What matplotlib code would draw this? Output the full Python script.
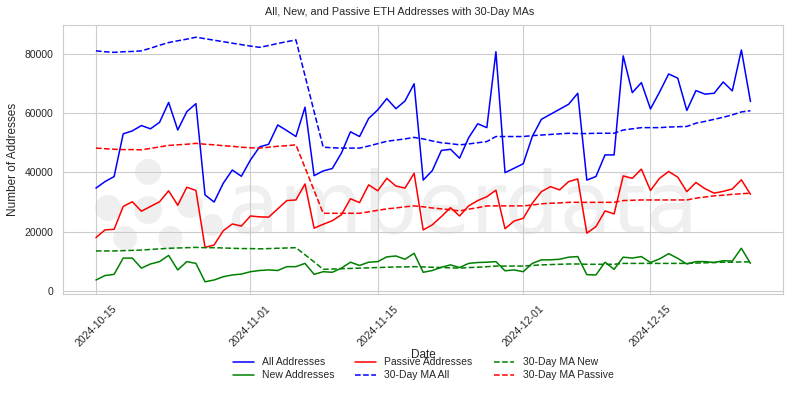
import pandas as pd
import matplotlib.pyplot as plt
import seaborn as sns

# daily values, starting 2024-10-15
start_date = "2024-10-15"
all_addresses = [34700, 36900, 38600, 53000, 54000, 55800, 54700, 56900, 63600, 54300,
                 60500, 63200, 32400, 30000, 36300, 40800, 38700, 44200, 48600, 49500,
                 56000, 54100, 52100, 62000, 38900, 40500, 41300, 46500, 53700, 52100,
                 58200, 61100, 64900, 61500, 64100, 69900, 37400, 40600, 47400, 47800,
                 44800, 51700, 56400, 55100, 80700, 39900, 41400, 42900, 52100, 57900,
                 59600, 61300, 63000, 66700, 37400, 38600, 45900, 45900, 79300, 66900,
                 70300, 61400, 67100, 73200, 71800, 60900, 67600, 66400, 66700, 70500,
                 67500, 81300, 63900]
new_addresses = [3700, 5200, 5600, 11100, 11100, 7700, 9100, 9900, 12000, 7100,
                 9900, 9300, 3100, 3700, 4800, 5400, 5700, 6500, 6900, 7100,
                 6900, 8200, 8200, 9300, 5600, 6500, 6300, 7700, 9700, 8600,
                 9700, 9900, 11500, 11800, 10700, 12700, 6300, 6900, 8000, 8800,
                 7900, 9300, 9600, 9700, 9900, 6800, 7100, 6500, 9300, 10500,
                 10500, 10700, 11400, 11600, 5500, 5400, 9700, 7300, 11400, 11100,
                 11600, 9600, 10800, 12600, 11000, 9100, 9900, 9900, 9600, 10200,
                 10100, 14400, 9300]
passive_addresses = [18000, 20600, 20800, 28500, 30100, 26900, 28500, 30100, 33800, 28900,
                     35000, 33900, 14700, 15500, 20300, 22600, 21900, 25300, 25000, 24900,
                     27700, 30500, 30700, 36100, 21200, 22500, 23700, 25700, 31100, 29800,
                     35800, 33800, 38000, 35400, 34700, 39700, 20600, 22300, 25100, 28100,
                     25300, 28700, 30500, 31800, 34000, 21000, 23600, 24500, 29600, 33500,
                     35200, 34100, 36900, 37800, 19500, 21700, 27000, 26000, 38800, 38000,
                     41100, 33900, 38000, 40300, 38400, 33500, 36600, 34500, 33000, 33600,
                     34400, 37500, 32600]
ma_all = [81000, 80700, 80500, 80700, 80800, 81000, 81900, 82900, 83800, 84400,
          84950, 85600, 85100, 84600, 84100, 83600, 83100, 82600, 82200, 82800,
          83500, 84100, 84700, 72600, 60500, 48500, 48300, 48200, 48200, 48200,
          48900, 49700, 50500, 50900, 51300, 51800, 51300, 50600, 50000, 49700,
          49300, 49600, 50000, 50400, 52100, 52100, 52100, 52100, 52400, 52600,
          52800, 53000, 53200, 53100, 53100, 53200, 53200, 53200, 54300, 54700,
          55100, 55100, 55100, 55300, 55400, 55500, 56600, 57200, 57900, 58600,
          59400, 60400, 60800]
ma_new = [13500, 13500, 13500, 13600, 13700, 13800, 14000, 14200, 14400, 14500,
          14600, 14700, 14600, 14600, 14500, 14400, 14300, 14300, 14200, 14300,
          14400, 14500, 14600, 12200, 9800, 7300, 7400, 7500, 7600, 7700,
          7800, 7900, 8000, 8100, 8100, 8200, 8100, 8000, 7900, 7800,
          7700, 7900, 8000, 8200, 8400, 8400, 8400, 8400, 8600, 8800,
          8900, 9000, 9100, 9100, 9000, 9000, 9000, 9000, 9300, 9300,
          9300, 9300, 9300, 9300, 9300, 9300, 9400, 9500, 9600, 9700,
          9700, 9800, 9800]
ma_passive = [48200, 48000, 47800, 47700, 47700, 47600, 48100, 48600, 49100, 49300,
              49500, 49800, 49500, 49300, 49000, 48800, 48500, 48300, 48200, 48500,
              48800, 49000, 49300, 41600, 33900, 26200, 26200, 26200, 26200, 26200,
              26700, 27200, 27700, 28000, 28400, 28700, 28400, 28000, 27700, 27400,
              27000, 27600, 28100, 28700, 28700, 28700, 28700, 28700, 29000, 29400,
              29600, 29700, 29900, 29900, 29900, 29900, 29900, 29900, 30500, 30600,
              30700, 30700, 30700, 30700, 30700, 30700, 31300, 31700, 32100, 32300,
              32600, 32800, 33000]

dates = pd.date_range(start_date, periods=len(all_addresses), freq="D")

sns.set_style("whitegrid")
plt.rcParams['font.family'] = ['Liberation Sans', 'DejaVu Sans']

fig, ax = plt.subplots(figsize=(8, 4), dpi=100)
fig.subplots_adjust(left=0.079, right=0.979, top=0.9375, bottom=0.265)

# faint watermark (logo blobs + word)
wm = "#efefef"
ax.text(0.228, 0.227, "amberdata", transform=ax.transAxes, fontsize=62,
        family="DejaVu Sans", color=wm, ha="left", va="baseline", zorder=0)
logo_x = [0.118, 0.0625, 0.118, 0.176, 0.086, 0.149, 0.207]
logo_y = [0.454, 0.320, 0.312, 0.331, 0.208, 0.208, 0.257]
logo_s = [350, 350, 400, 350, 300, 300, 250]
ax.scatter(logo_x, logo_y, s=logo_s, color=wm, transform=ax.transAxes,
           zorder=0, linewidths=0)

lw = 1.1
ax.plot(dates, all_addresses, color="blue", lw=lw, label="All Addresses")
ax.plot(dates, new_addresses, color="green", lw=lw, label="New Addresses")
ax.plot(dates, passive_addresses, color="red", lw=lw, label="Passive Addresses")
ax.plot(dates, ma_all, color="blue", lw=lw, ls="--", label="30-Day MA All")
ax.plot(dates, ma_new, color="green", lw=lw, ls="--", label="30-Day MA New")
ax.plot(dates, ma_passive, color="red", lw=lw, ls="--", label="30-Day MA Passive")

ax.set_xticks(pd.to_datetime(["2024-10-15", "2024-11-01", "2024-11-15", "2024-12-01", "2024-12-15"]))
ax.xaxis.set_major_formatter(plt.matplotlib.dates.DateFormatter("%Y-%m-%d"))
plt.setp(ax.get_xticklabels(), rotation=45, fontsize=7.5)
ax.tick_params(axis="y", labelsize=7.5)
fig.text(0.5, 0.97, "All, New, and Passive ETH Addresses with 30-Day MAs",
         fontsize=7.8, ha="center", va="center")
ax.set_xlabel("Date", fontsize=8.5, labelpad=0)
ax.set_ylabel("Number of Addresses", fontsize=8.5)
ax.legend(loc="upper center", bbox_to_anchor=(0.5, -0.20), ncol=3, frameon=False,
          fontsize=7.5, labelspacing=0.3)

plt.savefig("out.png", dpi=100)
